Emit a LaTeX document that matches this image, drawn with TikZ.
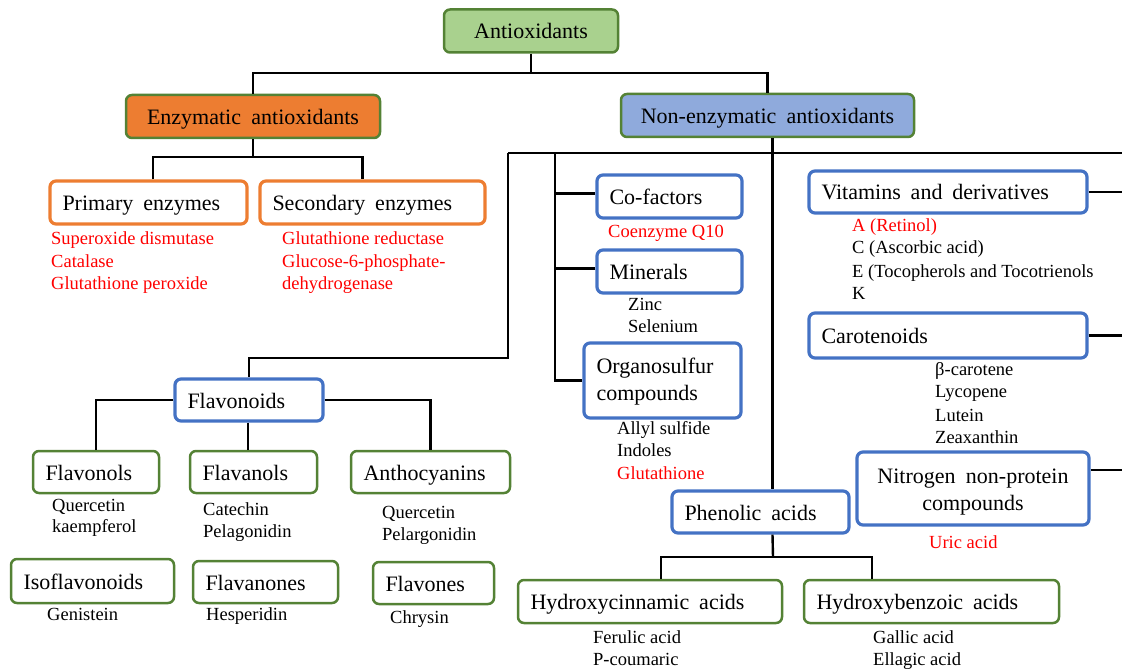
\documentclass[tikz,border=0pt]{standalone}
\usepackage{fontspec}
\setmainfont{Liberation Serif}
\definecolor{grn}{HTML}{548235}
\definecolor{gfill}{HTML}{A9D18E}
\definecolor{org}{HTML}{ED7D31}
\definecolor{blu}{HTML}{4472C4}
\definecolor{bfill}{HTML}{8FAADC}
\definecolor{rtext}{HTML}{FF0000}
\newcommand{\wideword}{\spaceskip=0.45em plus 0.1em minus 0.05em\relax}
\tikzset{
  box/.style={rounded corners=6pt, inner xsep=12.5pt, inner ysep=0pt, align=left,
    text height=19pt, text depth=3pt,
    font=\fontsize{22}{27}\selectfont, execute at begin node={\wideword}},
  gbox/.style={box, draw=grn, line width=2.5pt},
  bbox/.style={box, draw=blu, line width=3.2pt},
  obox/.style={box, draw=org, line width=3.2pt},
  conn/.style={draw=black, line width=2.4pt},
  item/.style={anchor=base west, inner sep=0pt, font=\fontsize{18.5}{22}\selectfont},
  ritem/.style={item, text=rtext},
}
\begin{document}
\begin{tikzpicture}[x=1pt,y=-1pt]
\useasboundingbox (0,0) rectangle (1122,671);

% ---- top levels
\node[gbox, fill=gfill, align=center, minimum width=174pt, text width=149pt, minimum height=43pt] (anti) at (531,31) {Antioxidants};
\node[gbox, fill=org, align=center, minimum width=254pt, text width=229pt, minimum height=43pt] (enz) at (253,116.5) {Enzymatic antioxidants};
\node[gbox, fill=bfill, align=center, minimum width=293pt, text width=268pt, minimum height=43pt] (nonenz) at (767.5,115.5) {Non-enzymatic antioxidants};

% ---- enzymatic branch
\node[obox, minimum width=197pt, text width=172pt, minimum height=43pt] (prim) at (148.5,202.5) {Primary enzymes};
\node[obox, minimum width=225pt, text width=200pt, minimum height=43pt] (sec) at (372.5,202.5) {Secondary enzymes};
\node[ritem] (p1) at (51,245) {Superoxide dismutase};
\node[ritem] (p2) at (51,267) {Catalase};
\node[ritem] (p3) at (51,290) {Glutathione peroxide};
\node[ritem] (s1) at (282,245) {Glutathione reductase};
\node[ritem] (s2) at (282,267) {Glucose-6-phosphate-};
\node[ritem] (s3) at (282,290) {dehydrogenase};

% ---- middle column
\node[bbox, minimum width=145pt, text width=120pt, minimum height=43pt] (cof) at (669.5,196.5) {Co-factors};
\node[ritem] (cq) at (608,237) {Coenzyme Q10};
\node[bbox, minimum width=145pt, text width=120pt, minimum height=43pt] (min) at (669.5,271.5) {Minerals};
\node[item] (zn) at (628,310) {Zinc};
\node[item] (se) at (628,332) {Selenium};
\node[bbox, text height=15pt, text depth=30pt, minimum width=157pt, text width=132pt, minimum height=75pt] (orgs) at (662.5,380.5) {Organosulfur\\compounds};
\node[item] (al) at (617,434) {Allyl sulfide};
\node[item] (in) at (617,456) {Indoles};
\node[ritem] (gl) at (617,479) {Glutathione};

% ---- right column
\node[bbox, minimum width=278pt, text width=253pt, minimum height=42pt] (vit) at (948,192) {Vitamins and derivatives};
\node[ritem] (v1) at (852,232) {A (Retinol)};
\node[item] (v2) at (852,254) {C (Ascorbic acid)};
\node[item] (v3) at (852,277) {E (Tocopherols and Tocotrienols};
\node[item] (v4) at (852,299) {K};
\node[bbox, minimum width=278pt, text width=253pt, minimum height=45pt] (car) at (948,335.5) {Carotenoids};
\node[item] (c1) at (935,375) {β-carotene};
\node[item] (c2) at (935,397) {Lycopene};
\node[item] (c3) at (935,421) {Lutein};
\node[item] (c4) at (935,443) {Zeaxanthin};
\node[bbox, align=center, text height=18pt, text depth=29pt, minimum width=232pt, text width=207pt, minimum height=73pt] (nit) at (973,488.5) {Nitrogen non-protein\\compounds};
\node[ritem] (ua) at (929,548) {Uric acid};

% ---- phenolic acids
\node[bbox, minimum width=177pt, text width=152pt, minimum height=42pt] (phen) at (760.5,512) {Phenolic acids};
\node[gbox, minimum width=264pt, text width=239pt, minimum height=43pt] (hcin) at (650,601.5) {Hydroxycinnamic acids};
\node[gbox, minimum width=255pt, text width=230pt, minimum height=43pt] (hben) at (931.5,601.5) {Hydroxybenzoic acids};
\node[item] (fa) at (593,643) {Ferulic acid};
\node[item] (pc) at (593,665) {P-coumaric};
\node[item] (ga) at (873,643) {Gallic acid};
\node[item] (ea) at (873,665) {Ellagic acid};

% ---- flavonoids
\node[bbox, minimum width=148pt, text width=123pt, minimum height=42pt] (flav) at (249,400) {Flavonoids};
\node[gbox, minimum width=126pt, text width=101pt, minimum height=42pt] (flol) at (96,472) {Flavonols};
\node[gbox, minimum width=127pt, text width=102pt, minimum height=42pt] (flan) at (253.5,472) {Flavanols};
\node[gbox, minimum width=159pt, text width=134pt, minimum height=42pt] (anth) at (430.5,472) {Anthocyanins};
\node[gbox, minimum width=163pt, text width=138pt, minimum height=44pt] (iso) at (92.5,581) {Isoflavonoids};
\node[gbox, minimum width=145pt, text width=120pt, minimum height=42pt] (flnn) at (265.5,582) {Flavanones};
\node[gbox, minimum width=121pt, text width=96pt, minimum height=42pt] (flvs) at (433.5,583) {Flavones};
\node[item] (q1) at (52,511) {Quercetin};
\node[item] (k1) at (52,532) {kaempferol};
\node[item] (ca) at (203,515) {Catechin};
\node[item] (pe) at (203,537) {Pelagonidin};
\node[item] (q2) at (382,518) {Quercetin};
\node[item] (pg) at (382,540) {Pelargonidin};
\node[item] (gn) at (47,620) {Genistein};
\node[item] (hs) at (206,620) {Hesperidin};
\node[item] (ch) at (390,623) {Chrysin};

% ---- connectors
\coordinate (j1) at (531,73);
\draw[conn] (anti.south) -- (j1);
\draw[conn] (enz.north) |- (j1) -| (nonenz.north);

\coordinate (j2) at (253,157);
\draw[conn] (enz.south) -- (j2);
\draw[conn] ([xshift=4.5pt]prim.north) |- (j2) -| ([xshift=-10pt]sec.north);

\coordinate (h1) at (508,153);
\coordinate (h2) at (1122,153);
\draw[conn] (h1) -- (h2);
\coordinate (nv) at ([xshift=5pt]nonenz.south);
\draw[conn] (nv) -- (nv |- phen.north);

\coordinate (fl) at (508,358);
\draw[conn] (h1) -- (fl) -| (flav.north);

\coordinate (v2t) at (555,153);
\draw[conn] (v2t) |- (orgs.west);
\draw[conn] ([yshift=3pt]cof.west) -- ([yshift=3pt]cof.west -| v2t);
\draw[conn] ([yshift=3pt]min.west) -- ([yshift=3pt]min.west -| v2t);

\draw[conn] (vit.east) -- (vit.east -| h2);
\draw[conn] (car.east) -- (car.east -| h2);
\coordinate (ne) at ([yshift=18.5pt]nit.east);
\draw[conn] (ne) -- (ne -| h2);

\coordinate (j3) at (773,557);
\draw[conn] (nv |- phen.south) -- (j3);
\draw[conn] ([xshift=11pt]hcin.north) |- (j3) -| ([xshift=-59.5pt]hben.north);

\draw[conn] (flav.west) -| (flol.north);
\draw[conn] (flav.east) -| (anth.north);
\draw[conn] ([xshift=-1pt]flav.south) -- ([xshift=-1pt]flav.south |- flan.north);
\end{tikzpicture}
\end{document}
